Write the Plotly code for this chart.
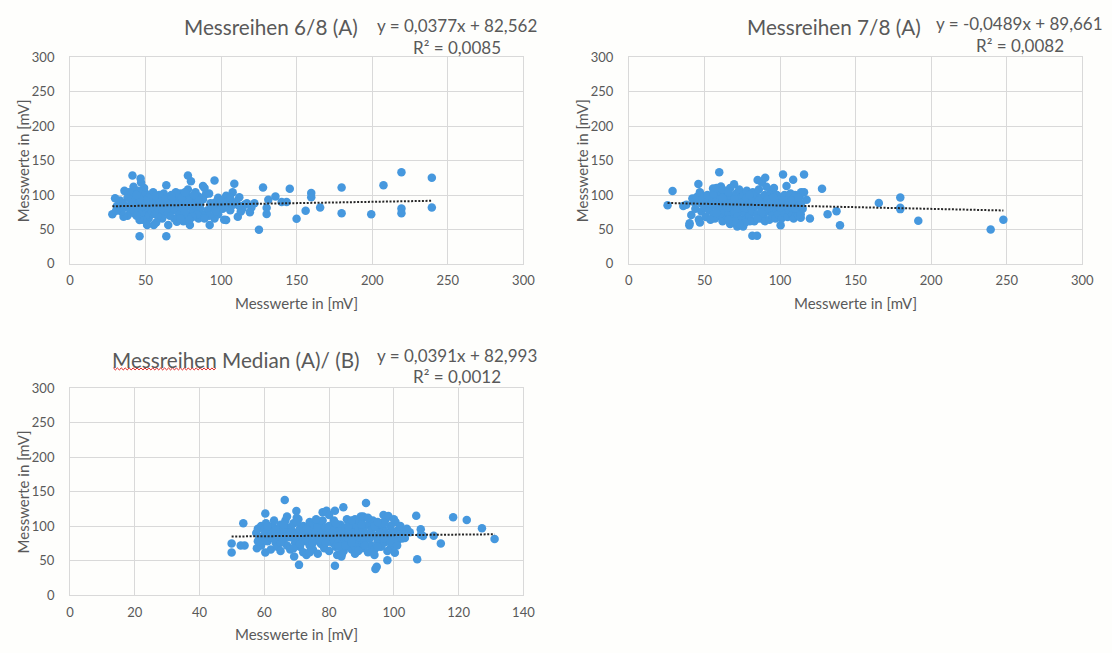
import plotly.graph_objects as go

# ---- Messreihe 6/8 (A) ----
X1 = [239.4, 239.4, 219.3, 219.3, 219.3, 207.4, 199.3, 179.7, 179.7, 165.5,
      159.6, 159.6, 155.9, 149.9, 145.4, 143.3, 140, 135.9, 131.2, 130.1,
      130.1, 127.7, 125, 122, 120, 119, 117, 115.4, 114, 112,
      111, 108.7, 107.6, 106, 105, 103.3, 103.3, 102, 101, 100,
      97, 96, 95.6, 95.6, 94, 93, 92.4, 92, 91, 90,
      89, 88, 88, 87, 86, 85, 85, 84, 83, 82,
      81, 80, 80, 79.3, 79, 78, 78, 77, 77, 76,
      75, 75, 74, 73, 72, 72, 71, 70.7, 70, 70,
      69, 68, 68, 67, 66, 66, 65, 65, 64, 63.7,
      63.7, 63, 62, 62, 61, 61, 60, 60, 59, 59,
      58, 58, 57, 57, 56, 56, 55.4, 55, 55, 54,
      54, 53, 53, 52, 52, 51, 51, 51, 50, 50,
      50, 49, 49, 49, 48, 48, 48, 47, 47, 46.7,
      46, 46, 46, 45, 45, 45, 44, 44, 43, 43,
      42, 42, 41.3, 41, 40, 40, 39, 38, 38, 37,
      36, 35.4, 35, 34, 33, 32, 31, 29.8, 28, 30.5,
      85, 83, 80, 78, 76, 74, 72, 69, 67, 64,
      62, 60, 58, 56, 54, 52, 50, 48, 46, 44,
      98, 100, 102, 104, 106, 108, 110, 112, 113, 98,
      96, 92, 89, 86, 84, 82, 81, 79, 76, 73]
Y1 = [125, 82, 133, 80.5, 73.6, 114, 72, 111, 73.6, 82,
      103, 96.6, 77, 65.5, 109, 90, 90, 98, 93, 81.5,
      72.5, 111, 49.6, 88, 82, 75, 88, 86, 80, 96.7,
      68.4, 116.5, 104, 78, 88, 99, 63.7, 64, 80, 86,
      84, 89, 121, 66, 82, 88, 56.6, 102, 78, 101.4,
      110, 113, 94, 72, 86, 98, 66, 80, 104, 90,
      76, 96, 120, 56.6, 84, 128.3, 108, 100, 70, 88,
      62, 94, 80, 102, 74, 90, 98, 61.3, 84, 104,
      66, 92, 78, 100, 70, 86, 56.6, 96, 80, 114,
      40, 90, 74, 102, 84, 66, 94, 78, 100, 88,
      70, 82, 96, 60, 76, 90, 56.6, 104, 84, 72,
      96, 80, 100, 66, 88, 92, 56.6, 76, 102, 84,
      70, 96, 110, 80, 64, 90, 100, 74, 118, 124,
      63.7, 86, 40, 98, 78, 106, 70, 90, 82, 102,
      112, 74, 128.3, 94, 86, 78, 104, 70, 96, 82,
      106, 68.4, 88, 76, 92, 80, 84, 95.3, 72, 77,
      92, 84, 88, 92, 76, 96, 84, 88, 94, 88,
      94, 86, 92, 98, 88, 96, 92, 84, 94, 100,
      96, 92, 84, 90, 96, 86, 90, 84, 76, 72,
      76, 70, 66, 80, 72, 100, 68, 64, 104, 66]

# ---- Messreihe 7/8 (A) ----
X2 = [25.6, 28.9, 36, 38, 40, 40.2, 41.3, 42, 43, 44,
      45, 46, 46.3, 47, 47, 48, 48, 49, 50, 50,
      51, 52, 53, 54, 55, 55.7, 56, 57, 57, 58,
      59, 59.8, 60, 60.9, 61, 62, 62, 63, 63, 64,
      64, 65, 65, 66, 66, 67, 67, 68, 68, 69,
      69.6, 70, 70, 71, 71.7, 72, 72, 73, 73, 74,
      74, 75, 75.6, 76, 76, 77, 77, 78, 78, 79,
      79, 80, 80, 81, 81.7, 82, 82, 83, 83, 84,
      84, 84.8, 85, 85.2, 86, 86, 87, 87, 88, 88,
      89, 89, 90, 90.2, 90, 91, 91, 92, 92, 93,
      93, 94, 94, 95, 95, 96, 96, 97, 97, 98,
      98, 99, 99, 100, 100.4, 101, 101, 102, 102, 103,
      103, 104, 104.3, 105, 105, 106, 106, 107, 107, 108,
      108.7, 108, 109, 109, 110, 110, 111, 111, 112, 112,
      113, 113.7, 113.7, 114, 114, 115, 115.9, 115.9, 117.6, 119.8,
      127.8, 131.5, 137.4, 139.7, 165.4, 179.6, 179.6, 179.6, 191.5, 239.4,
      247.8, 60, 62, 65, 67, 70, 72, 74, 76, 78,
      80, 82, 84, 86, 88, 90, 92, 94, 96, 98,
      100, 102, 104, 106, 108, 110, 112, 88, 85, 80,
      77, 73, 70, 66, 58, 54, 52, 56, 58, 62,
      66]
Y2 = [85, 105.7, 84, 86, 56, 59, 70.8, 95, 90, 80,
      97, 116, 64.6, 60, 104, 88, 76, 94, 82, 98,
      68, 90, 78, 86, 96, 109.4, 72, 84, 66, 92,
      80, 133, 100, 112.3, 70, 88, 62, 94, 78, 104,
      84, 68, 98, 90, 74, 110, 58, 82, 96, 66,
      115.6, 88, 76, 102, 54.2, 92, 70, 84, 108, 64,
      96, 78, 54.2, 90, 100, 72, 86, 106, 66, 94,
      80, 88, 70, 98, 41, 76, 104, 84, 62, 92,
      100, 41, 72, 121.7, 86, 108, 66, 96, 80, 118,
      90, 70, 100, 125, 62, 84, 112, 76, 94, 88,
      64, 104, 80, 70, 96, 86, 110, 66, 92, 78,
      100, 84, 72, 94, 56, 88, 66, 129.7, 80, 100,
      74, 92, 113.2, 84, 68, 96, 78, 88, 102, 72,
      122, 82, 94, 66, 86, 100, 76, 92, 84, 70,
      98, 67, 72, 88, 104, 80, 104, 129.7, 93, 66,
      109, 72, 76.5, 56, 88.5, 96.5, 81.5, 79.5, 62.7, 50,
      64, 84, 96, 82, 88, 94, 80, 88, 82, 96,
      100, 90, 84, 92, 86, 78, 86, 90, 96, 88,
      82, 92, 86, 90, 92, 80, 96, 74, 66, 62,
      60, 58, 62, 64, 74, 64, 100, 102, 110, 108,
      104]

# ---- Median (A)/(B) ----
X3 = [49.9, 49.9, 52.7, 53.9, 53.5, 57.7, 57.5, 58, 58.5, 59,
      59, 60, 60.3, 60.3, 60.5, 61, 61.5, 62, 62, 62.5,
      63, 63, 63.5, 64, 64, 64.5, 65, 65, 65.5, 66,
      66.3, 66.5, 67, 67, 67.5, 68, 68, 68.5, 69, 69.2,
      69.5, 69.9, 70, 70, 70.7, 70.5, 71, 71, 71.5, 72,
      72, 72.5, 73, 73, 73.5, 74, 74, 74.5, 75, 75,
      75.5, 76, 76, 76.5, 77, 77, 77.5, 78, 78, 78.5,
      79, 79.2, 79.5, 80, 80, 80.5, 81, 81, 81.5, 81.8,
      81.8, 82, 82, 82.5, 83, 83, 83.5, 83.8, 84, 84,
      84.4, 84.5, 85, 85, 85.5, 86, 86, 86.2, 86.5, 87,
      87, 87.5, 88, 88, 88.5, 89, 89, 89.5, 89.8, 90,
      90, 90.5, 90.5, 91, 91.4, 91.5, 92, 92, 92.5, 93,
      93, 93.5, 94, 94, 94.3, 94.7, 95, 95, 95.5, 96,
      96, 96.5, 96.8, 97, 97, 97.5, 98, 98, 98.3, 98.5,
      99, 99, 99.5, 100, 100.3, 100.5, 101, 101.3, 101.5, 102,
      102.5, 103, 103.4, 104, 104.9, 106.9, 107.2, 108.3, 108.3, 109,
      112.3, 114.5, 118.3, 122.5, 127.2, 131.1, 62, 64, 66, 68,
      70, 72, 74, 76, 78, 80, 82, 84, 86, 88,
      90, 92, 94, 96, 98, 100, 65, 67, 69, 71,
      73, 75, 77, 79, 81, 83, 85, 87, 89, 91,
      93, 95, 97, 99, 101, 66, 70, 74, 78, 82,
      86, 90, 94, 97, 88, 76, 60, 59, 63, 58,
      61, 63.5, 73, 79, 87, 95]
Y3 = [74.8, 61.7, 71.9, 71.9, 104.2, 67.8, 90, 96, 84, 100,
      72, 88, 118.2, 61.7, 104, 78, 94, 84, 66, 100,
      90, 108, 76, 96, 70, 86, 102, 64, 92, 80,
      138.1, 108, 88, 72, 98, 84, 66, 94, 104, 56,
      76, 122, 90, 82, 43.7, 110, 70, 96, 86, 62,
      100, 78, 92, 58, 84, 106, 72, 96, 88, 66,
      100, 80, 92, 60, 86, 104, 74, 96, 120, 68,
      90, 122.5, 82, 100, 64, 94, 76, 86, 108, 122.5,
      42.3, 70, 96, 58, 88, 80, 102, 55.8, 92, 74,
      127.4, 64, 84, 98, 110, 78, 90, 70.5, 104, 66,
      86, 96, 60, 80, 100, 74, 92, 84, 114, 108,
      68, 114, 96, 78, 133.5, 88, 62, 102, 82, 94,
      72, 108, 86, 66, 37.6, 40.9, 98, 78, 90, 104,
      70, 84, 116, 94, 76, 110, 50.4, 88, 114.8, 80,
      100, 68, 92, 84, 61.2, 106, 78, 94.4, 88, 100,
      82, 90, 82.6, 96, 91.2, 115, 52, 95.4, 87.4, 85.8,
      86, 74.8, 113, 108.8, 97, 81.4, 92, 88, 96, 90,
      112, 92, 62, 98, 84, 116, 86, 60, 94, 70,
      86, 112, 58, 90, 64, 110, 76, 114, 68, 74,
      82, 76, 80, 76, 94, 70, 72, 76, 64, 72,
      86, 70, 82, 76, 72, 102, 106, 100, 108, 104,
      100, 102, 100, 104, 110, 110, 96, 80, 82, 78,
      100, 94, 96, 98, 108, 106]

TITLES = ["Messreihen 6/8 (A)", "Messreihen 7/8 (A)", "Messreihen Median (A)/ (B)"]
SLOPES = [0.0377, -0.0489, 0.0391]
INTERCEPTS = [82.562, 89.661, 82.993]
EQUATIONS = ["y = 0,0377x + 82,562", "y = -0,0489x + 89,661", "y = 0,0391x + 82,993"]
R_SQUARED = ["R² = 0,0085", "R² = 0,0082", "R² = 0,0012"]
X_MAX = [300, 300, 140]
X_STEP = [50, 50, 20]
AXIS_LABEL = "Messwerte in [mV]"

W, H = 1112, 653
FONT = "Lato"
GRAY = "#595959"
GRID = "#d9d9d9"
BLUE = "#4698de"
BG = "#fefefc"


def fx(p):
    return p / W


def fy(p):
    return 1 - p / H


# plot-area boxes in pixels: left, right, top, bottom
BOXES = [(67, 527, 50.5, 262.3), (634, 1094, 50.5, 262.3), (67, 527, 390, 601.7)]
# label placements in pixels: title centre, equation centre, R² centre
TITLE_POS = [(271, 19), (842, 19), (235, 361)]
EQ_POS = [(460, 18), (1030, 16), (460, 356)]
R2_POS = [(460, 41), (1031, 38), (460, 378)]

series = [(X1, Y1), (X2, Y2), (X3, Y3)]

fig = go.Figure()
annotations = []
for i, (xs, ys) in enumerate(series):
    assert len(xs) == len(ys)
    sfx = "" if i == 0 else str(i + 1)
    fig.add_trace(go.Scatter(
        x=xs, y=ys, mode="markers", xaxis="x" + sfx, yaxis="y" + sfx,
        marker=dict(color=BLUE, size=8.5, line=dict(width=0)),
        showlegend=False, hoverinfo="x+y"))
    x0, x1 = min(xs), max(xs)
    fig.add_trace(go.Scatter(
        x=[x0, x1], y=[SLOPES[i] * x0 + INTERCEPTS[i], SLOPES[i] * x1 + INTERCEPTS[i]],
        mode="lines", xaxis="x" + sfx, yaxis="y" + sfx,
        line=dict(color="#262626", width=2, dash="2px,1.6px"),
        showlegend=False, hoverinfo="skip"))

    l, r, t, b = BOXES[i]
    axis_common = dict(showgrid=True, gridcolor=GRID, gridwidth=1, zeroline=False,
                       showline=True, linecolor=GRID, linewidth=1, mirror=True,
                       ticks="", tickfont=dict(family=FONT, size=13, color=GRAY))
    fig.update_layout(**{
        "xaxis" + sfx: dict(domain=[fx(l), fx(r)], range=[0, X_MAX[i]], dtick=X_STEP[i],
                            tick0=0, anchor="y" + sfx, ticklabelstandoff=5, **axis_common),
        "yaxis" + sfx: dict(domain=[fy(b), fy(t)], range=[0, 300], dtick=50, tick0=0,
                            anchor="x" + sfx, ticklabelstandoff=12, **axis_common),
    })

    annotations.append(dict(text=TITLES[i], x=fx(TITLE_POS[i][0]), y=fy(TITLE_POS[i][1]),
                            font=dict(family=FONT, size=20.7, color=GRAY)))
    annotations.append(dict(text=EQUATIONS[i], x=fx(EQ_POS[i][0]), y=fy(EQ_POS[i][1]),
                            font=dict(family=FONT, size=17, color=GRAY)))
    annotations.append(dict(text=R_SQUARED[i], x=fx(R2_POS[i][0]), y=fy(R2_POS[i][1]),
                            font=dict(family=FONT, size=17, color=GRAY)))
    annotations.append(dict(text=AXIS_LABEL, x=fx((l + r) / 2), y=fy(b + 40),
                            font=dict(family=FONT, size=15, color=GRAY)))
    annotations.append(dict(text=AXIS_LABEL, x=fx(l - 48), y=fy((t + b) / 2), textangle=-90,
                            font=dict(family=FONT, size=15, color=GRAY)))

for a in annotations:
    a.update(xref="paper", yref="paper", showarrow=False, xanchor="center", yanchor="middle")

# spell-check squiggle under the first word of the median chart title
sx0, sx1, sy = 111, 215, 370
pts = []
k = 0
xx = sx0
while xx <= sx1:
    pts.append((fx(xx), fy(sy + (1 if k % 2 else -1))))
    xx += 2
    k += 1
path = "M " + " L ".join(f"{a:.5f},{b:.5f}" for a, b in pts)

fig.update_layout(
    width=W, height=H, margin=dict(l=0, r=0, t=0, b=0),
    paper_bgcolor=BG, plot_bgcolor=BG,
    annotations=annotations,
    shapes=[dict(type="path", path=path, xref="paper", yref="paper",
                 line=dict(color="#e02020", width=1))],
)

fig.write_html("out.html")
